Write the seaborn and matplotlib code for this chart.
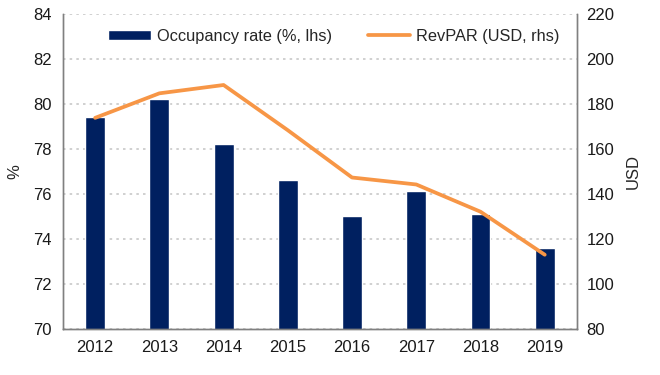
import matplotlib
matplotlib.use("Agg")
import matplotlib.pyplot as plt
import seaborn as sns
import numpy as np
import pandas as pd

# values
years = ["2012", "2013", "2014", "2015", "2016", "2017", "2018", "2019"]
occupancy = [79.4, 80.2, 78.2, 76.6, 75.0, 76.15, 75.1, 73.6]   # %, lhs
revpar = [173.8, 184.7, 188.4, 168.3, 147.3, 144.2, 132.1, 113.0]  # USD, rhs

df = pd.DataFrame({"year": years, "occ": occupancy, "revpar": revpar})
df["pos"] = np.arange(len(df))

sns.set_theme(style="white")
plt.rcParams["font.family"] = ["Liberation Sans", "DejaVu Sans"]
plt.rcParams["font.size"] = 12

navy = "#002060"
orange = "#F79646"
spine_col = "#808080"

fig = plt.figure(figsize=(6.6, 3.75), dpi=100)
ax = fig.add_axes([0.0955, 0.1227, 0.7785, 0.8403])

sns.barplot(data=df, x="year", y="occ", color=navy, width=0.31,
            saturation=1, ax=ax, label="Occupancy rate (%, lhs)")
ax.set_ylim(70, 84)
ax.set_yticks(np.arange(70, 85, 2))
ax.set_xlim(-0.5, 7.5)
ax.yaxis.grid(True, linestyle=(0, (1.5, 2.5)), color="#c8c8c8", linewidth=1.2)
ax.set_axisbelow(True)
ax.set_xlabel("")
ax.set_ylabel("%", fontsize=12, labelpad=8)

ax2 = ax.twinx()
sns.lineplot(data=df, x="pos", y="revpar", color=orange, linewidth=2.7,
             ax=ax2, label="RevPAR (USD, rhs)")
ax2.set_ylim(80, 220)
ax2.set_yticks(np.arange(80, 221, 20))
ax2.set_xlim(-0.5, 7.5)
ax2.set_ylabel("USD", fontsize=12, labelpad=8)

for a in (ax, ax2):
    a.tick_params(axis="both", length=0, labelsize=12, colors="#1a1a1a")
    a.spines["top"].set_visible(False)
    for s in ("left", "right", "bottom"):
        a.spines[s].set_color(spine_col)
        a.spines[s].set_linewidth(1.0)
ax.tick_params(axis="x", pad=8)
ax.tick_params(axis="y", pad=8)
ax2.tick_params(axis="y", pad=7)

h1, l1 = ax.get_legend_handles_labels()
h2, l2 = ax2.get_legend_handles_labels()
if ax.get_legend() is not None:
    ax.get_legend().remove()
ax2.legend(h1 + h2, l1 + l2, loc="upper center", bbox_to_anchor=(0.527, 1.0),
           ncol=2, frameon=False, fontsize=11.8, handlelength=2.6,
           handleheight=0.6, handletextpad=0.35, columnspacing=2.2)

fig.savefig("out.png", dpi=100)
